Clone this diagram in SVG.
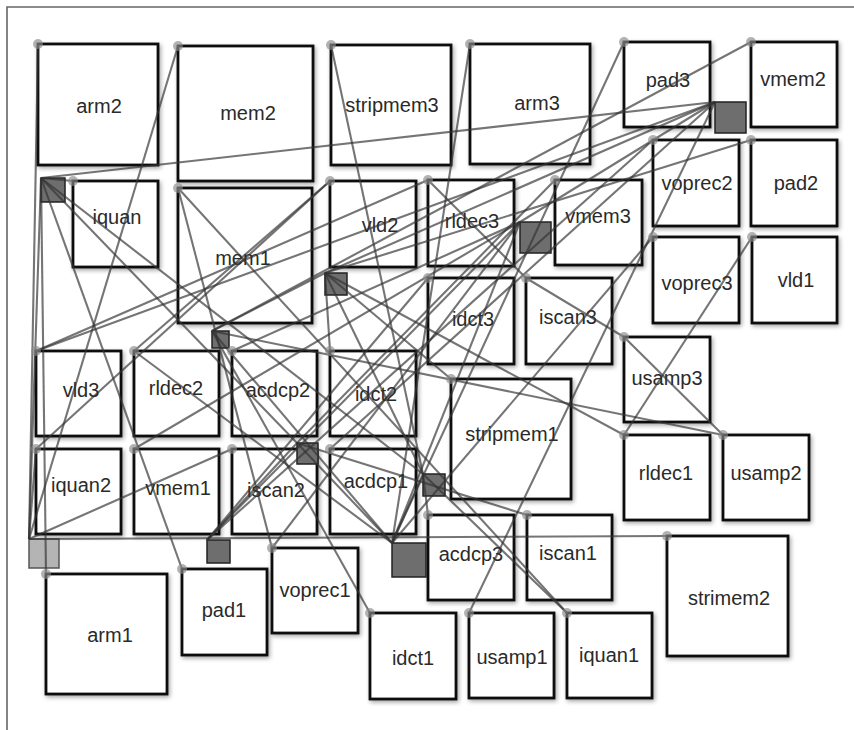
<svg xmlns="http://www.w3.org/2000/svg" width="854" height="730" viewBox="0 0 854 730">
<defs>
<filter id="sh" x="-10%" y="-10%" width="125%" height="125%">
<feDropShadow dx="1.5" dy="2" stdDeviation="2" flood-color="#000" flood-opacity="0.35"/>
</filter>
<style>
.n rect{fill:#fff;stroke:#111;stroke-width:2.8;filter:url(#sh)}
.n text{font-family:"Liberation Sans",Arial,sans-serif;font-size:20px;fill:#2a2a2a;text-anchor:middle}
.dot{fill:#8a8a8a;fill-opacity:0.65}
.c line{stroke:#333;stroke-opacity:0.68;stroke-width:2.1}
.h rect{fill:#6e6e6e;stroke:#222;stroke-width:1.5}
.h rect.lt{fill:#b4b4b4;stroke:#555}
.frame{stroke:#666;stroke-width:1.6;fill:none}
</style>
</defs>
<rect x="0" y="0" width="854" height="730" fill="#fff"/>
<path class="frame" d="M7,730 V7 H854"/>

<g id="arm2" class="n"><rect x="38" y="44" width="120" height="121"/><text x="99" y="113">arm2</text></g>
<g id="mem2" class="n"><rect x="178" y="46" width="135" height="135"/><text x="248" y="120">mem2</text></g>
<g id="stripmem3" class="n"><rect x="331" y="45" width="120" height="120"/><text x="392" y="112">stripmem3</text></g>
<g id="arm3" class="n"><rect x="470" y="44" width="120" height="120"/><text x="537" y="110">arm3</text></g>
<g id="pad3" class="n"><rect x="624" y="42" width="86" height="85"/><text x="668" y="87">pad3</text></g>
<g id="vmem2" class="n"><rect x="751" y="42" width="86" height="85"/><text x="793" y="86">vmem2</text></g>
<g id="iquan" class="n"><rect x="73" y="181" width="85" height="86"/><text x="117" y="224">iquan</text></g>
<g id="mem1" class="n"><rect x="178" y="188" width="134" height="135"/><text x="243" y="265">mem1</text></g>
<g id="vld2" class="n"><rect x="330" y="181" width="86" height="86"/><text x="380" y="232">vld2</text></g>
<g id="rldec3" class="n"><rect x="428" y="180" width="86" height="86"/><text x="472" y="228">rldec3</text></g>
<g id="vmem3" class="n"><rect x="555" y="180" width="87" height="85"/><text x="598" y="223">vmem3</text></g>
<g id="voprec2" class="n"><rect x="653" y="140" width="86" height="86"/><text x="697" y="190">voprec2</text></g>
<g id="pad2" class="n"><rect x="751" y="140" width="86" height="86"/><text x="796" y="190">pad2</text></g>
<g id="voprec3" class="n"><rect x="653" y="237" width="86" height="86"/><text x="697" y="290">voprec3</text></g>
<g id="vld1" class="n"><rect x="752" y="237" width="85" height="86"/><text x="796" y="287">vld1</text></g>
<g id="idct3" class="n"><rect x="428" y="278" width="86" height="86"/><text x="473" y="326">idct3</text></g>
<g id="iscan3" class="n"><rect x="526" y="278" width="86" height="86"/><text x="568" y="324">iscan3</text></g>
<g id="usamp3" class="n"><rect x="624" y="337" width="86" height="85"/><text x="667" y="385">usamp3</text></g>
<g id="stripmem1" class="n"><rect x="451" y="379" width="120" height="120"/><text x="512" y="441">stripmem1</text></g>
<g id="vld3" class="n"><rect x="36" y="351" width="85" height="85"/><text x="81" y="397">vld3</text></g>
<g id="rldec2" class="n"><rect x="134" y="351" width="85" height="85"/><text x="176" y="395">rldec2</text></g>
<g id="acdcp2" class="n"><rect x="232" y="351" width="85" height="85"/><text x="278" y="397">acdcp2</text></g>
<g id="idct2" class="n"><rect x="330" y="351" width="86" height="85"/><text x="376" y="401">idct2</text></g>
<g id="iquan2" class="n"><rect x="36" y="449" width="85" height="85"/><text x="81" y="492">iquan2</text></g>
<g id="vmem1" class="n"><rect x="134" y="449" width="85" height="85"/><text x="178" y="495">vmem1</text></g>
<g id="iscan2" class="n"><rect x="232" y="449" width="85" height="85"/><text x="276" y="497">iscan2</text></g>
<g id="acdcp1" class="n"><rect x="330" y="449" width="86" height="85"/><text x="376" y="488">acdcp1</text></g>
<g id="rldec1" class="n"><rect x="624" y="435" width="86" height="85"/><text x="666" y="480">rldec1</text></g>
<g id="usamp2" class="n"><rect x="723" y="435" width="86" height="85"/><text x="766" y="480">usamp2</text></g>
<g id="acdcp3" class="n"><rect x="428" y="515" width="86" height="85"/><text x="471" y="561">acdcp3</text></g>
<g id="iscan1" class="n"><rect x="527" y="515" width="85" height="85"/><text x="568" y="560">iscan1</text></g>
<g id="strimem2" class="n"><rect x="667" y="536" width="121" height="120"/><text x="729" y="605">strimem2</text></g>
<g id="arm1" class="n"><rect x="46" y="574" width="121" height="120"/><text x="110" y="642">arm1</text></g>
<g id="pad1" class="n"><rect x="182" y="569" width="85" height="86"/><text x="224" y="617">pad1</text></g>
<g id="voprec1" class="n"><rect x="272" y="548" width="86" height="85"/><text x="315" y="597">voprec1</text></g>
<g id="idct1" class="n"><rect x="370" y="613" width="86" height="86"/><text x="413" y="665">idct1</text></g>
<g id="usamp1" class="n"><rect x="469" y="613" width="85" height="85"/><text x="512" y="664">usamp1</text></g>
<g id="iquan1" class="n"><rect x="567" y="613" width="85" height="85"/><text x="609" y="662">iquan1</text></g>

<g id="switches" class="h">
<rect id="sw1" x="41" y="178" width="24" height="24"/>
<rect id="sw2" x="715" y="102" width="31" height="31"/>
<rect id="sw3" x="520" y="222" width="31" height="31"/>
<rect id="sw4" x="325" y="273" width="22" height="22"/>
<rect id="sw5" x="212" y="331" width="17" height="17"/>
<rect id="sw6" x="297" y="443" width="21" height="21"/>
<rect id="sw7" x="423" y="474" width="22" height="22"/>
<rect id="sw8" class="lt" x="29" y="539" width="30" height="29"/>
<rect id="sw9" x="207" y="540" width="23" height="23"/>
<rect id="sw10" x="392" y="543" width="34" height="34"/>
</g>

<g id="connectors" class="c">
<line x1="41" y1="178" x2="715" y2="102"/>
<line x1="41" y1="178" x2="29" y2="539"/>
<line x1="41" y1="178" x2="297" y2="443"/>
<line x1="41" y1="178" x2="423" y2="474"/>
<line x1="715" y1="102" x2="520" y2="222"/>
<line x1="715" y1="102" x2="325" y2="273"/>
<line x1="520" y1="222" x2="207" y2="540"/>
<line x1="520" y1="222" x2="392" y2="543"/>
<line x1="325" y1="273" x2="212" y2="331"/>
<line x1="325" y1="273" x2="423" y2="474"/>
<line x1="212" y1="331" x2="392" y2="543"/>
<line x1="297" y1="443" x2="392" y2="543"/>
<line x1="423" y1="474" x2="392" y2="543"/>
<line x1="297" y1="443" x2="207" y2="540"/>
<line x1="38" y1="44" x2="29" y2="539"/>
<line x1="178" y1="46" x2="29" y2="539"/>
<line x1="73" y1="181" x2="41" y2="178"/>
<line x1="331" y1="45" x2="423" y2="474"/>
<line x1="470" y1="44" x2="392" y2="543"/>
<line x1="624" y1="42" x2="392" y2="543"/>
<line x1="751" y1="42" x2="212" y2="331"/>
<line x1="178" y1="188" x2="272" y2="548"/>
<line x1="330" y1="181" x2="134" y2="351"/>
<line x1="330" y1="181" x2="36" y2="449"/>
<line x1="428" y1="180" x2="526" y2="278"/>
<line x1="428" y1="180" x2="36" y2="351"/>
<line x1="555" y1="180" x2="297" y2="443"/>
<line x1="653" y1="140" x2="207" y2="540"/>
<line x1="751" y1="140" x2="325" y2="273"/>
<line x1="653" y1="237" x2="392" y2="543"/>
<line x1="752" y1="237" x2="624" y2="435"/>
<line x1="428" y1="278" x2="207" y2="540"/>
<line x1="526" y1="278" x2="624" y2="337"/>
<line x1="624" y1="337" x2="723" y2="435"/>
<line x1="451" y1="379" x2="325" y2="273"/>
<line x1="36" y1="351" x2="715" y2="102"/>
<line x1="134" y1="351" x2="392" y2="543"/>
<line x1="232" y1="351" x2="520" y2="222"/>
<line x1="330" y1="351" x2="325" y2="273"/>
<line x1="36" y1="449" x2="29" y2="539"/>
<line x1="134" y1="449" x2="520" y2="222"/>
<line x1="232" y1="449" x2="29" y2="539"/>
<line x1="330" y1="449" x2="715" y2="102"/>
<line x1="624" y1="435" x2="325" y2="273"/>
<line x1="723" y1="435" x2="212" y2="331"/>
<line x1="428" y1="515" x2="423" y2="474"/>
<line x1="527" y1="515" x2="297" y2="443"/>
<line x1="667" y1="536" x2="29" y2="539"/>
<line x1="46" y1="574" x2="41" y2="178"/>
<line x1="182" y1="569" x2="41" y2="178"/>
<line x1="272" y1="548" x2="520" y2="222"/>
<line x1="370" y1="613" x2="212" y2="331"/>
<line x1="469" y1="613" x2="715" y2="102"/>
<line x1="567" y1="613" x2="423" y2="474"/>
<line x1="567" y1="613" x2="178" y2="188"/>
</g>

<g id="ports">
<circle class="dot" cx="38" cy="44" r="5"/><circle class="dot" cx="178" cy="46" r="5"/><circle class="dot" cx="331" cy="45" r="5"/><circle class="dot" cx="470" cy="44" r="5"/><circle class="dot" cx="624" cy="42" r="5"/><circle class="dot" cx="751" cy="42" r="5"/>
<circle class="dot" cx="73" cy="181" r="5"/><circle class="dot" cx="178" cy="188" r="5"/><circle class="dot" cx="330" cy="181" r="5"/><circle class="dot" cx="428" cy="180" r="5"/><circle class="dot" cx="555" cy="180" r="5"/><circle class="dot" cx="653" cy="140" r="5"/><circle class="dot" cx="751" cy="140" r="5"/>
<circle class="dot" cx="653" cy="237" r="5"/><circle class="dot" cx="752" cy="237" r="5"/><circle class="dot" cx="428" cy="278" r="5"/><circle class="dot" cx="526" cy="278" r="5"/><circle class="dot" cx="624" cy="337" r="5"/><circle class="dot" cx="451" cy="379" r="5"/>
<circle class="dot" cx="36" cy="351" r="5"/><circle class="dot" cx="134" cy="351" r="5"/><circle class="dot" cx="232" cy="351" r="5"/><circle class="dot" cx="330" cy="351" r="5"/>
<circle class="dot" cx="36" cy="449" r="5"/><circle class="dot" cx="134" cy="449" r="5"/><circle class="dot" cx="232" cy="449" r="5"/><circle class="dot" cx="330" cy="449" r="5"/>
<circle class="dot" cx="624" cy="435" r="5"/><circle class="dot" cx="723" cy="435" r="5"/><circle class="dot" cx="428" cy="515" r="5"/><circle class="dot" cx="527" cy="515" r="5"/><circle class="dot" cx="667" cy="536" r="5"/>
<circle class="dot" cx="46" cy="574" r="5"/><circle class="dot" cx="182" cy="569" r="5"/><circle class="dot" cx="272" cy="548" r="5"/><circle class="dot" cx="370" cy="613" r="5"/><circle class="dot" cx="469" cy="613" r="5"/><circle class="dot" cx="567" cy="613" r="5"/>
</g>
</svg>
